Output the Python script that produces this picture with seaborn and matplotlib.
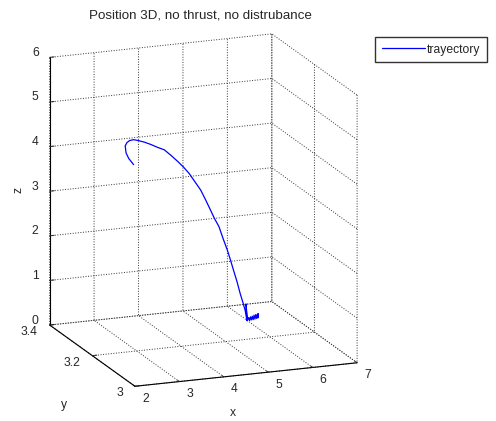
import numpy as np
import matplotlib
matplotlib.use("Agg")
import matplotlib.pyplot as plt
import seaborn as sns
from mpl_toolkits.mplot3d import proj3d

# ---- data ----
traj_x = [3.41, 3.30, 3.24, 3.22, 3.26, 3.32, 3.41, 3.51, 3.65, 3.80, 3.95, 4.10,
          4.25, 4.40, 4.53, 4.66, 4.79, 4.92, 5.03, 5.14, 5.23, 5.33, 5.42, 5.52,
          5.59, 5.66, 5.74, 5.81, 5.87, 5.92, 5.96, 5.94, 5.97, 6.00, 6.02, 6.04,
          6.06, 6.08, 6.10, 6.12, 6.14, 6.16, 6.18, 6.20, 6.21, 6.22, 6.20, 6.21]
traj_y = [3.30] * len(traj_x)
traj_z = [3.79, 3.94, 4.07, 4.23, 4.30, 4.34, 4.35, 4.32, 4.27, 4.20, 4.12, 4.05,
          3.91, 3.76, 3.62, 3.46, 3.26, 3.06, 2.83, 2.59, 2.39, 2.20, 1.93, 1.65,
          1.42, 1.18, 0.91, 0.64, 0.44, 0.26, 0.03, 0.40, 0.02, 0.09, 0.02, 0.10,
          0.03, 0.11, 0.03, 0.13, 0.04, 0.14, 0.05, 0.15, 0.06, 0.15, 0.08, 0.12]
series_label = "trayectory"
title_text = "Position 3D, no thrust, no distrubance"
x_ticks = [2, 3, 4, 5, 6, 7]
x_ticklabels = ["2", "3", "4", "5", "6", "7"]
y_ticks = [3, 3.2, 3.4]
y_ticklabels = ["3", "3.2", "3.4"]
z_ticks = [0, 1, 2, 3, 4, 5, 6]
z_ticklabels = ["0", "1", "2", "3", "4", "5", "6"]

sns.set_theme(style="white")
plt.rcParams["font.family"] = ["Liberation Sans", "DejaVu Sans"]
plt.rcParams["font.size"] = 8.7

W, H = 496, 421
FS = 8.7
fig = plt.figure(figsize=(W / 100, H / 100), dpi=100)
ax = fig.add_axes([0.0095, 0.0136, 0.78, 0.95], projection="3d")
ax.set_proj_type("ortho")

ax.plot(traj_x, traj_y, traj_z, color="#0000ff", linewidth=0.9, label=series_label)

x0, x1 = 2, 7
y0, y1 = 3, 3.4
z0, z1 = 0, 6
ax.set_xlim(x0, x1)
ax.set_ylim(y0, y1)
ax.set_zlim(z0, z1)
ax.set_xticks(x_ticks)
ax.set_yticks(y_ticks)
ax.set_zticks(z_ticks)
ax.set_xticklabels([])
ax.set_yticklabels([])
ax.set_zticklabels([])
ax.view_init(elev=16, azim=-111)
ax.set_box_aspect((1, 1, 1.17), zoom=1.096)

for axis in (ax.xaxis, ax.yaxis, ax.zaxis):
    axis.set_pane_color((1, 1, 1, 0))
    axis.pane.set_edgecolor((1, 1, 1, 0))
    axis.line.set_color("black")
    axis.line.set_linewidth(0.8)
    axis._axinfo["grid"].update(color="#333333", linestyle=":", linewidth=0.7)
    axis._axinfo["tick"]["inward_factor"] = 0.0
    axis._axinfo["tick"]["outward_factor"] = 0.25
    axis._axinfo["tick"]["linewidth"] = {True: 0.7, False: 0.5}
    axis._axinfo["tick"]["color"] = "black"
ax.grid(True)
ax.set_xlabel("")
ax.set_ylabel("")
ax.set_zlabel("")

# tick labels: project each tick through the axes' own 3D projection,
# then offset by a few pixels as MATLAB does
fig.canvas.draw()
M = ax.get_proj()


def tick_label(x, y, z, text, dx, dy, ha):
    xs, ys, _ = proj3d.proj_transform(x, y, z, M)
    ax.annotate(text, xy=(xs, ys), xycoords="data", xytext=(dx, dy),
                textcoords="offset pixels", ha=ha, va="center", fontsize=FS,
                annotation_clip=False)


for v, lab in zip(x_ticks, x_ticklabels):
    tick_label(v, y0, z0, lab, 10.5, -12.5, "center")
for v, lab in zip(y_ticks, y_ticklabels):
    tick_label(x0, v, z0, lab, -12, -7, "right")
for v, lab in zip(z_ticks, z_ticklabels):
    tick_label(x0, y1, v, lab, -11, 4.5, "right")

# axis labels placed as in the reference
fig.text(233 / W, 1 - 413 / H, "x", ha="center", va="center", fontsize=FS)
fig.text(64 / W, 1 - 405 / H, "y", ha="center", va="center", fontsize=FS)
fig.text(18 / W, 1 - 190 / H, "z", ha="center", va="center", fontsize=FS,
         rotation=90)

fig.text(200 / W, 1 - 15 / H, title_text, ha="center", va="center", fontsize=9.6)
fig.legend(loc="upper right", bbox_to_anchor=(487 / W, 1 - 37 / H), frameon=True,
           fancybox=False, edgecolor="black", fontsize=FS, handlelength=3.6,
           handletextpad=0.15, borderpad=0.55, borderaxespad=0)

fig.savefig("out.png", dpi=100, facecolor="white")
